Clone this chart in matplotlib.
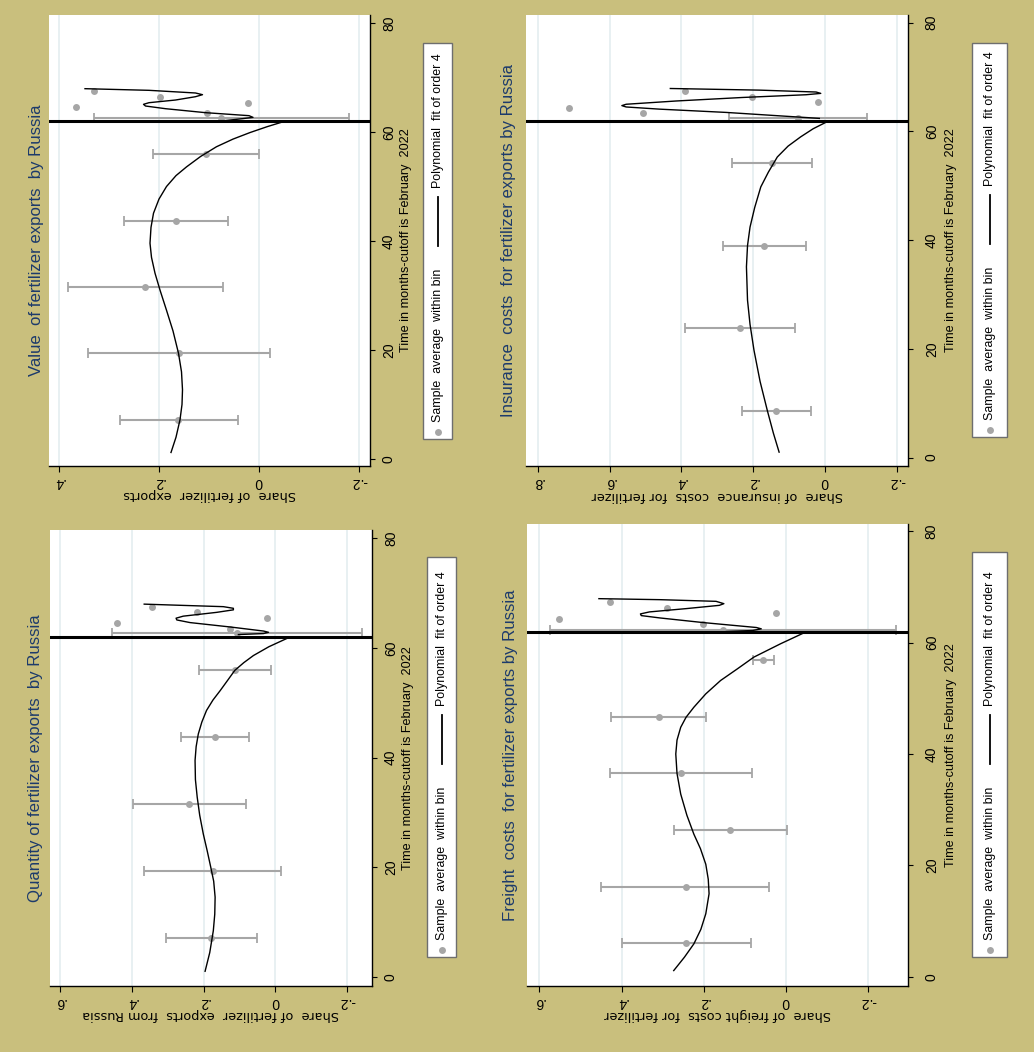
import matplotlib
matplotlib.use("Agg")
import matplotlib.pyplot as plt
from matplotlib.patches import Rectangle
from matplotlib.lines import Line2D
from matplotlib import font_manager

# ---------------- data ----------------
cutoff = 62
time_ticks = [0, 20, 40, 60, 80]

# Value of fertilizer exports
val_t = [7.2, 19.4, 31.5, 43.7, 55.9, 62.5, 63.4, 64.5, 65.4, 66.5, 67.5]
val_mean = [0.163, 0.161, 0.229, 0.167, 0.107, 0.076, 0.104, 0.367, 0.023, 0.199, 0.331]
val_lo = [0.043, -0.021, 0.073, 0.062, 0.001, -0.179]
val_hi = [0.279, 0.343, 0.383, 0.271, 0.213, 0.331]
val_fit_pre_t = [1.2, 4.0, 7.2, 10.0, 12.7, 16.0, 19.4, 23.5, 27.3, 31.0, 34.1, 37.0, 39.6,
                 42.5, 45.1, 47.7, 50.0, 52.0, 53.6, 55.5, 57.3, 58.7, 59.9, 61.0, 61.9]
val_fit_pre_s = [0.176, 0.166, 0.158, 0.154, 0.153, 0.155, 0.161, 0.172, 0.185, 0.198, 0.208,
                 0.215, 0.218, 0.216, 0.211, 0.200, 0.185, 0.166, 0.145, 0.117, 0.085, 0.052,
                 0.018, -0.017, -0.049]
val_fit_post_t = [62.0, 62.45, 62.69, 63.0, 63.55, 64.28, 64.77, 65.08, 65.38, 65.87, 66.48,
                  66.85, 67.16, 67.65, 67.95]
val_fit_post_s = [0.077, 0.033, 0.012, 0.020, 0.107, 0.187, 0.227, 0.231, 0.220, 0.167, 0.127,
                  0.113, 0.127, 0.220, 0.348]
val_ticks = [0.4, 0.2, 0.0, -0.2]
val_tick_labels = [".4", ".2", "0", "-.2"]

# Insurance costs
ins_t = [8.6, 23.8, 39.0, 54.2, 62.4, 63.4, 64.35, 65.4, 66.4, 67.4]
ins_mean = [0.136, 0.238, 0.169, 0.148, 0.076, 0.506, 0.714, 0.019, 0.203, 0.390]
ins_lo = [0.040, 0.084, 0.053, 0.036, -0.116]
ins_hi = [0.232, 0.391, 0.284, 0.258, 0.268]
ins_fit_pre_t = [1.0, 4.5, 8.7, 14.0, 19.75, 24.5, 28.95, 35.1, 39.0, 42.4, 46.0, 49.8, 52.5,
                 55.3, 57.3, 59.0, 60.5, 61.8]
ins_fit_pre_s = [0.128, 0.144, 0.161, 0.181, 0.198, 0.209, 0.216, 0.219, 0.216, 0.209, 0.196,
                 0.179, 0.158, 0.133, 0.103, 0.068, 0.033, -0.006]
ins_fit_post_t = [62.4, 63.5, 64.1, 64.5, 64.75, 65.0, 65.6, 66.25, 66.75, 67.0, 67.25, 67.6, 67.9]
ins_fit_post_s = [0.016, 0.276, 0.461, 0.554, 0.566, 0.554, 0.415, 0.229, 0.053, 0.012, 0.025,
                  0.183, 0.431]
ins_ticks = [0.8, 0.6, 0.4, 0.2, 0.0, -0.2]
ins_tick_labels = [".8", ".6", ".4", ".2", "0", "-.2"]

# Quantity of fertilizer exports
qty_t = [7.1, 19.3, 31.5, 43.7, 55.9, 62.65, 63.45, 64.5, 65.5, 66.5, 67.5]
qty_mean = [0.180, 0.175, 0.241, 0.167, 0.113, 0.106, 0.127, 0.441, 0.022, 0.219, 0.343]
qty_lo = [0.052, -0.015, 0.083, 0.073, 0.012, -0.243]
qty_hi = [0.306, 0.366, 0.397, 0.263, 0.213, 0.455]
qty_fit_pre_t = [1.1, 4.5, 8.5, 11.5, 14.6, 17.5, 20.0, 23.0, 26.1, 29.5, 32.8, 36.0, 39.5,
                 42.0, 44.3, 46.5, 48.6, 50.5, 52.2, 54.0, 55.9, 57.3, 58.6, 60.2, 61.7]
qty_fit_pre_s = [0.196, 0.183, 0.173, 0.169, 0.168, 0.172, 0.180, 0.190, 0.201, 0.211, 0.218,
                 0.223, 0.224, 0.221, 0.215, 0.205, 0.192, 0.174, 0.154, 0.134, 0.113, 0.088,
                 0.061, 0.018, -0.032]
qty_fit_post_t = [62.42, 62.6, 62.83, 63.06, 63.8, 64.6, 65.08, 65.4, 65.77, 66.46, 66.92, 67.2,
                  67.5, 67.73, 67.96]
qty_fit_post_s = [0.103, 0.033, 0.019, 0.033, 0.126, 0.238, 0.275, 0.277, 0.257, 0.164, 0.117,
                  0.117, 0.145, 0.257, 0.366]
qty_ticks = [0.6, 0.4, 0.2, 0.0, -0.2]
qty_tick_labels = [".6", ".4", ".2", "0", "-.2"]

# Freight costs
frt_t = [6.05, 16.2, 26.4, 36.5, 46.6, 56.8, 62.3, 63.35, 64.3, 65.3, 66.3, 67.3]
frt_mean = [0.243, 0.244, 0.135, 0.255, 0.309, 0.055, 0.152, 0.202, 0.552, 0.024, 0.289, 0.427]
frt_lo = [0.085, 0.040, -0.003, 0.082, 0.194, 0.028, -0.268]
frt_hi = [0.399, 0.449, 0.272, 0.429, 0.425, 0.081, 0.574]
frt_fit_pre_t = [1.1, 3.5, 5.9, 8.5, 11.3, 14.9, 17.5, 20.2, 23.0, 25.6, 29.0, 32.8, 36.5,
                 40.0, 42.5, 44.8, 46.6, 48.4, 50.8, 53.2, 55.3, 57.4, 59.8, 61.9]
frt_fit_pre_s = [0.273, 0.247, 0.224, 0.207, 0.195, 0.187, 0.189, 0.195, 0.208, 0.224, 0.241,
                 0.256, 0.265, 0.268, 0.265, 0.256, 0.243, 0.224, 0.195, 0.159, 0.118, 0.078,
                 0.013, -0.048]
frt_fit_post_t = [62.0, 62.18, 62.48, 62.72, 63.61, 64.44, 64.86, 65.16, 65.52, 66.11, 66.7,
                  67.0, 67.42, 67.72, 67.9]
frt_fit_post_s = [0.145, 0.081, 0.060, 0.072, 0.202, 0.307, 0.352, 0.354, 0.332, 0.243, 0.162,
                  0.151, 0.170, 0.307, 0.455]
frt_ticks = [0.6, 0.4, 0.2, 0.0, -0.2]
frt_tick_labels = [".6", ".4", ".2", "0", "-.2"]

titles = ["Value  of fertilizer exports  by Russia",
          "Insurance  costs  for fertilizer exports by Russia",
          "Quantity of fertilizer exports  by Russia",
          "Freight  costs  for fertilizer exports by Russia"]
share_labels = ["Share  of fertilizer  exports",
                "Share  of insurance  costs  for fertilizer",
                "Share  of fertilizer  exports  from Russia",
                "Share  of freight costs  for fertilizer"]
time_label = "Time in months-cutoff is February  2022"
leg_dots = "Sample  average  within bin"
leg_line = "Polynomial  fit of order 4"

# ---------------- layout (pixels of the 1034x1052 picture) ----------------
W, H = 1034, 1052
khaki = "#c9bf7d"
navy = "#1c3a6b"
gray = "#a6a6a6"
gridc = "#e2ecef"

avail = {f.name for f in font_manager.fontManager.ttflist}
if "Liberation Sans Narrow" in avail:
    narrow, k = "Liberation Sans Narrow", 1.0
else:
    narrow, k = "Liberation Sans", 0.86
fs_title = 14.0 * k
fs_time = 10.6 * k
fs_leg = 10.4 * k
fs_tick = 10.0


def fx(x):
    return x / W


def fy(y):
    return 1 - y / H


panels = [
    dict(box=(49, 15, 370, 466), xlim=(0.42, -0.222), ylim=(-1.28, 81.47),
         t=val_t, m=val_mean, lo=val_lo, hi=val_hi,
         pre=(val_fit_pre_t, val_fit_pre_s), post=(val_fit_post_t, val_fit_post_s),
         ticks=val_ticks, tlabels=val_tick_labels, title_x=37, time_x=406, tpad=5,
         leg=(423, 43, 452, 439)),
    dict(box=(526, 15, 908, 466), xlim=(0.833, -0.231), ylim=(-1.55, 81.42),
         t=ins_t, m=ins_mean, lo=ins_lo, hi=ins_hi,
         pre=(ins_fit_pre_t, ins_fit_pre_s), post=(ins_fit_post_t, ins_fit_post_s),
         ticks=ins_ticks, tlabels=ins_tick_labels, title_x=509, time_x=951, tpad=8.5,
         leg=(972, 43, 1007, 437)),
    dict(box=(50, 530, 372, 986), xlim=(0.629, -0.270), ylim=(-1.58, 81.46),
         t=qty_t, m=qty_mean, lo=qty_lo, hi=qty_hi,
         pre=(qty_fit_pre_t, qty_fit_pre_s), post=(qty_fit_post_t, qty_fit_post_s),
         ticks=qty_ticks, tlabels=qty_tick_labels, title_x=36, time_x=408, tpad=5,
         leg=(427, 557, 456, 957)),
    dict(box=(527, 524, 908, 986), xlim=(0.630, -0.297), ylim=(-1.67, 81.31),
         t=frt_t, m=frt_mean, lo=frt_lo, hi=frt_hi,
         pre=(frt_fit_pre_t, frt_fit_pre_s), post=(frt_fit_post_t, frt_fit_post_s),
         ticks=frt_ticks, tlabels=frt_tick_labels, title_x=510, time_x=951, tpad=8.5,
         leg=(972, 552, 1007, 957)),
]

fig = plt.figure(figsize=(W / 100, H / 100), dpi=100, facecolor=khaki)

for i, p in enumerate(panels):
    l, t, r, b = p["box"]
    ax = fig.add_axes([fx(l), fy(b), (r - l) / W, (b - t) / H])
    ax.set_facecolor("white")
    ax.set_xlim(*p["xlim"])
    ax.set_ylim(*p["ylim"])
    for s in ["top", "left"]:
        ax.spines[s].set_visible(False)
    for s in ["bottom", "right"]:
        ax.spines[s].set_linewidth(1.0)

    ax.set_xticks(p["ticks"], p["tlabels"])
    ax.xaxis.grid(True, color=gridc, lw=1.1)
    ax.set_axisbelow(True)
    ax.tick_params(axis="x", direction="out", length=4.3, width=0.8, pad=2.5,
                   labelrotation=180, labelsize=fs_tick)
    for lab in ax.get_xticklabels():
        lab.set_family(narrow)

    ax.yaxis.tick_right()
    ax.set_yticks(time_ticks)
    ax.tick_params(axis="y", direction="out", length=3.6, width=0.8, pad=p["tpad"],
                   labelrotation=90, labelsize=fs_tick)
    for lab in ax.get_yticklabels():
        lab.set_family(narrow)
        lab.set_va("center")

    n = len(p["lo"])
    mean_ci = p["m"][:n]
    err = [[m - lo for m, lo in zip(mean_ci, p["lo"])],
           [hi - m for m, hi in zip(mean_ci, p["hi"])]]
    ax.errorbar(mean_ci, p["t"][:n], xerr=err, fmt="none", ecolor=gray,
                elinewidth=1.5, capsize=3.5, capthick=1.3, zorder=2)
    ax.plot(p["m"], p["t"], "o", color=gray, ms=5, mec="none", zorder=3)
    ax.plot(p["pre"][1], p["pre"][0], color="black", lw=1.0, zorder=4)
    ax.plot(p["post"][1], p["post"][0], color="black", lw=1.0, zorder=4)
    ax.axhline(cutoff, color="black", lw=2.2, zorder=5)

    yc = (t + b) / 2
    xc = (l + r) / 2
    fig.text(fx(p["title_x"]), fy(yc), titles[i], rotation=90, ha="center", va="center",
             color=navy, fontsize=fs_title, family=narrow)
    fig.text(fx(p["time_x"]), fy(yc), time_label, rotation=90, ha="center", va="center",
             fontsize=fs_time, family=narrow)
    fig.text(fx(xc), fy(b + 29), share_labels[i], rotation=180, ha="center", va="center",
             fontsize=9.3, family="DejaVu Sans")

    # legend box
    ll, lt, lr, lb = p["leg"]
    fig.patches.append(Rectangle((fx(ll), fy(lb)), (lr - ll) / W, (lb - lt) / H,
                                 transform=fig.transFigure, facecolor="white",
                                 edgecolor="#6e6e6e", lw=1.0))
    lx = (ll + lr) / 2
    fig.lines.append(Line2D([fx(lx)], [fy(lb - 7)], transform=fig.transFigure,
                            marker="o", ms=5, color=gray, mec="none", ls="none"))
    fig.text(fx(lx), fy(lb - 17), leg_dots, rotation=90, ha="center", va="bottom",
             fontsize=fs_leg, family=narrow)
    fig.lines.append(Line2D([fx(lx), fx(lx)], [fy(lb - 193), fy(lb - 242)],
                            transform=fig.transFigure, color="black", lw=1.3))
    fig.text(fx(lx), fy(lb - 251), leg_line, rotation=90, ha="center", va="bottom",
             fontsize=fs_leg, family=narrow)

fig.savefig("out.png", dpi=100, facecolor=fig.get_facecolor())
